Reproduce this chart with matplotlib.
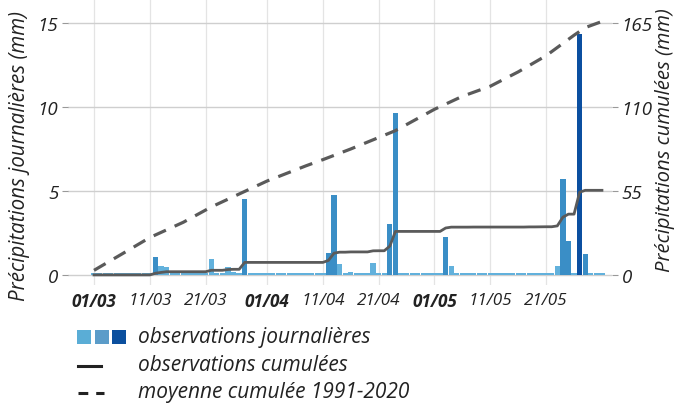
import numpy as np
import matplotlib
matplotlib.use("Agg")
import matplotlib.pyplot as plt
from matplotlib.patches import Rectangle
from matplotlib.lines import Line2D

# days are counted from 01/03 (index 0) to 31/05 (index 91)
n_days = 92
rain_days = [11, 12, 13, 21, 24, 25, 27,
             42, 43, 44, 46, 50, 51, 53, 54,
             63, 64, 68, 78, 80, 81, 83, 84, 85, 87, 88]
rain_mm = [1.09, 0.55, 0.46, 0.93, 0.50, 0.15, 4.52,
           1.29, 4.76, 0.65, 0.17, 0.71, 0.05, 3.05, 9.62,
           2.24, 0.56, 0.05, 0.10, 0.05, 0.05, 0.56, 5.71, 2.00, 14.35, 1.25]

# mean cumulated rainfall 1991-2020, read at a few dates
normal_days = [0, 5, 10, 16, 21, 26, 31, 38, 41, 46, 51, 54, 61, 66, 71, 76, 81, 86, 88, 91]
normal_cum = [3, 13.7, 24.5, 34.5, 44.5, 53, 61.5, 71.5, 75.5, 82.5, 90, 94.5,
              108.5, 117, 123.6, 133, 143.6, 157, 162, 166]

tick_days = [0, 10, 20, 31, 41, 51, 61, 71, 81]
tick_labels = ["01/03", "11/03", "21/03", "01/04", "11/04", "21/04", "01/05", "11/05", "21/05"]
bold_ticks = {"01/03", "01/04", "01/05"}

left_ticks = [0, 5, 10, 15]
right_ticks = [0, 55, 110, 165]

daily = np.zeros(n_days)
daily[rain_days] = rain_mm
cumul = np.cumsum(daily)

LIGHT = "#62b1dc"
MID = "#3a8ec6"
DARK = "#0b4fa0"
GREY = "#5a5a5a"
FONT = "Open Sans"

plt.rcParams["font.family"] = [FONT, "DejaVu Sans"]

fig = plt.figure(figsize=(6.81, 4.06), dpi=100)
ax = fig.add_axes([68 / 681, 1 - 286 / 406, 544 / 681, 286 / 406])

colors = [DARK if v > 10 else MID if v >= 1 else LIGHT for v in daily]
heights = np.maximum(daily, 0.1)
ax.bar(np.arange(n_days), heights, width=0.95, color=colors, linewidth=0, zorder=2)

ax.set_xlim(-4.66, 92.8)
ax.set_ylim(-0.6, 16.43)
ax.set_yticks(left_ticks)
ax.set_yticklabels([str(t) for t in left_ticks], fontsize=13.5, style="italic")
ax.set_xticks(tick_days)
ax.set_xticklabels(tick_labels, fontsize=12.3, style="italic")
for lab in ax.get_xticklabels():
    if lab.get_text() in bold_ticks:
        lab.set_fontweight("bold")
ax.tick_params(axis="x", length=0, pad=5, colors="#222222")
ax.tick_params(axis="y", length=4, pad=3, color="#999999", colors="#222222")
ax.grid(axis="y", color="#cfcfcf", linewidth=1.0, zorder=0)
ax.grid(axis="x", color="#e4e4e4", linewidth=0.9, zorder=0)
for s in ax.spines.values():
    s.set_visible(False)

ax2 = ax.twinx()
ax2.set_ylim(-0.6 * 11, 16.43 * 11)
ax2.set_yticks(right_ticks)
ax2.set_yticklabels([str(t) for t in right_ticks], fontsize=13.5, style="italic")
ax2.tick_params(axis="y", length=4, pad=3, color="#999999", colors="#222222")
for s in ax2.spines.values():
    s.set_visible(False)
ax2.plot(np.arange(n_days), cumul, color=GREY, linewidth=2.0, zorder=3)
ax2.plot(normal_days, normal_cum, color=GREY, linewidth=2.3, dashes=(4.2, 3), zorder=3)

fig.text(20 / 681, 1 - 156 / 406, "Précipitations journalières (mm)", rotation=90,
         ha="center", va="center", fontsize=14.8, style="italic", color="#222222")
fig.text(665 / 681, 1 - 140 / 406, "Précipitations cumulées (mm)", rotation=90,
         ha="center", va="center", fontsize=14.6, style="italic", color="#222222")

# legend drawn in pixel coordinates
lg = fig.add_axes([0, 0, 1, 1], zorder=-1)
lg.set_xlim(0, 681)
lg.set_ylim(406, 0)
lg.axis("off")
for x0, c in zip([77, 95, 112], ["#5aadd6", "#5b9cc9", "#0b4f9e"]):
    lg.add_patch(Rectangle((x0, 331), 14, 14, color=c, linewidth=0))
lg.add_line(Line2D([78, 101], [367, 367], color="#222222", linewidth=2.2))
lg.add_line(Line2D([78, 104], [394, 394], color="#222222", linewidth=2.2, dashes=(3.2, 2.6)))
for y, txt in [(338, "observations journalières"), (366, "observations cumulées"),
               (393, "moyenne cumulée 1991-2020")]:
    lg.text(138, y, txt, ha="left", va="center", fontsize=15, style="italic", color="#222222")

fig.savefig("out.png", dpi=100)
